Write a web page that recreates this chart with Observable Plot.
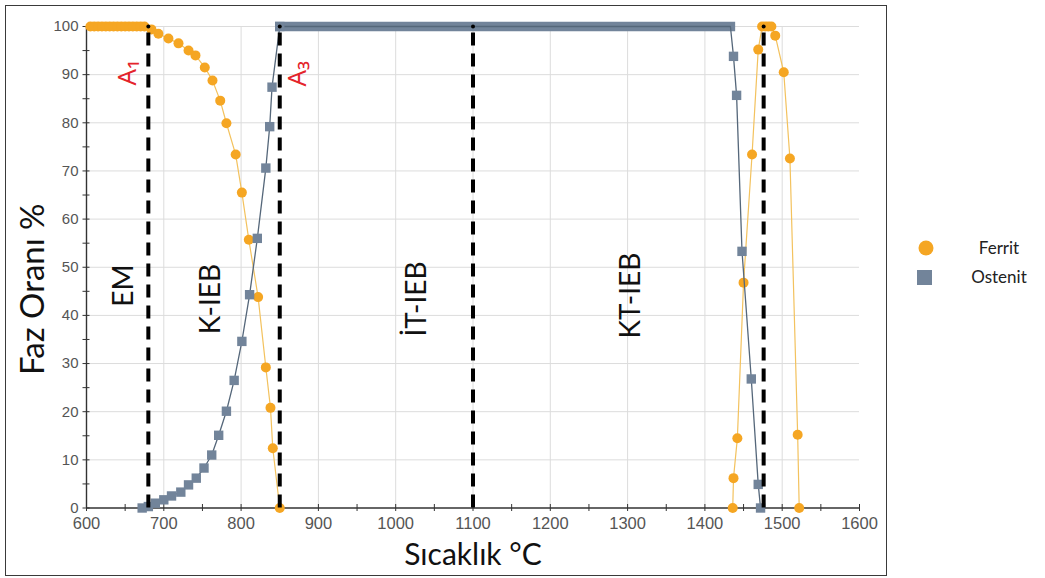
<!DOCTYPE html>
<html>
<head>
<meta charset="utf-8">
<script src="https://cdn.jsdelivr.net/npm/d3@7"></script>
<script src="https://cdn.jsdelivr.net/npm/@observablehq/plot@0.6"></script>
<style>
  body { margin: 0; background: #fff; }
  #wrap { position: relative; width: 1045px; height: 578px; overflow: hidden; background: #fff; }
  #wrap > svg { position: absolute; left: 0; top: 0; }
  #box { position: absolute; left: 5px; top: 5px; width: 882px; height: 571px; border: 1.5px solid #3a3a3a; box-sizing: border-box; pointer-events: none; }
</style>
</head>
<body>
<div id="wrap"><div id="box"></div></div>
<script>
// Phase fractions (%) of ferrite and austenite versus temperature (°C)

// Ferrit – low-temperature branch
const ferritLowT = [605, 610, 615, 620, 625, 630, 635, 640, 645, 650, 655, 660, 665, 670, 675, 684,
                    693, 706, 719, 732, 741, 753, 763, 773, 781, 793, 801, 810, 822, 832, 838, 841, 850];
const ferritLowV = [100, 100, 100, 100, 100, 100, 100, 100, 100, 100, 100, 100, 100, 100, 100, 99.4,
                    98.5, 97.5, 96.5, 95.0, 94.0, 91.5, 88.8, 84.6, 79.9, 73.4, 65.5, 55.7, 43.8, 29.2, 20.8, 12.4, 0];

// Ferrit – high-temperature (delta) branch
const ferritHighT = [1436, 1437, 1442, 1450, 1461, 1469, 1474, 1478, 1482, 1486, 1491, 1502, 1510, 1520, 1522];
const ferritHighV = [0, 6.2, 14.5, 46.8, 73.4, 95.2, 100, 100, 100, 100, 98.1, 90.5, 72.6, 15.2, 0];

// Ostenit – formation on heating
const ostenitLowT = [672, 680, 689, 700, 710, 722, 732, 742, 752, 762, 771, 781, 791, 801, 811, 821, 832, 837, 840, 850];
const ostenitLowV = [0, 0.3, 1.0, 1.7, 2.5, 3.3, 4.8, 6.2, 8.3, 11.0, 15.1, 20.1, 26.5, 34.6, 44.3, 56.0, 70.6, 79.2, 87.4, 100];

// Ostenit – fully austenitic range (densely sampled at 100 %)
const ostenitPlateauT = [850, 1433];
const ostenitPlateauV = [100, 100];

// Ostenit – decay towards delta ferrite
const ostenitHighT = [1437, 1441, 1448, 1460, 1469, 1472];
const ostenitHighV = [93.8, 85.7, 53.3, 26.8, 4.9, 0];

// Critical temperatures (dashed lines)
const criticalT = [680, 850, 1100, 1476];

// Region labels and critical-point labels
const regionNames = ["EM", "K-IEB", "İT-IEB", "KT-IEB"];
const regionT = [648, 761, 1027, 1305];
const regionV = [46.2, 43.4, 43.4, 44.1];
const pointNames = ["A₁", "A₃"];
const pointT = [653, 873];
const pointV = [90.4, 90.2];

// Axis ticks
const xTicks = [600, 700, 800, 900, 1000, 1100, 1200, 1300, 1400, 1500, 1600];
const xMinor = [600, 650, 700, 750, 800, 850, 900, 950, 1000, 1050, 1100, 1150, 1200, 1250, 1300, 1350, 1400, 1450, 1500, 1550, 1600];
const yTicks = [0, 10, 20, 30, 40, 50, 60, 70, 80, 90, 100];
const yMinor = [0, 5, 10, 15, 20, 25, 30, 35, 40, 45, 50, 55, 60, 65, 70, 75, 80, 85, 90, 95, 100];

// Legend
const seriesNames = ["Ferrit", "Ostenit"];
const seriesColors = ["#f5a623", "#72849a"];
const seriesLines = ["#f3c25e", "#55677a"];

const rows = (T, V, extra) => T.map((t, i) => ({T: t, v: V[i], ...extra}));
const ferrit = [
  ...rows(ferritLowT, ferritLowV, {seg: "low"}),
  ...rows(ferritHighT, ferritHighV, {seg: "high"})
];
const ostenitLine = [
  ...rows(ostenitLowT, ostenitLowV),
  ...rows(ostenitPlateauT, ostenitPlateauV),
  ...rows(ostenitHighT, ostenitHighV)
];
const ostenitDots = [...rows(ostenitLowT, ostenitLowV), ...rows(ostenitHighT, ostenitHighV)];
const plateau = rows(ostenitPlateauT, ostenitPlateauV);
const regions = regionNames.map((n, i) => ({n, T: regionT[i], v: regionV[i]}));
const points = pointNames.map((n, i) => ({n, T: pointT[i], v: pointV[i]}));

const titleFont = "Lato, 'Open Sans', sans-serif";
const tickFont = "'Liberation Sans', Arial, sans-serif";
const plain = d => String(d);

const chart = Plot.plot({
  width: 1045,
  height: 578,
  marginLeft: 86,
  marginRight: 186,
  marginTop: 26,
  marginBottom: 70.5,
  x: {domain: [600, 1600]},
  y: {domain: [0, 100]},
  style: {fontFamily: tickFont, background: "transparent"},
  marks: [
    Plot.gridX(xTicks.filter(t => t > 600 && t < 1600), {stroke: "#dcdcdc", strokeOpacity: 1}),
    Plot.gridY(yTicks.filter(t => t > 0), {stroke: "#dcdcdc", strokeOpacity: 1}),
    Plot.ruleY([0], {stroke: "#333", strokeWidth: 1.4}),
    Plot.ruleX([600], {stroke: "#333", strokeWidth: 1.4}),
    Plot.axisX(xMinor, {tickSize: 7, dy: -3.5, fill: "none", stroke: "#333", label: null}),
    Plot.axisX(xTicks, {tickSize: 0, tickPadding: 9, fontSize: 16.5, fill: "#555", tickFormat: plain, label: null}),
    Plot.axisY(yMinor, {tickSize: 7, dx: 3.5, fill: "none", stroke: "#333", label: null}),
    Plot.axisY(yTicks, {tickSize: 0, tickPadding: 8, fontSize: 15, fill: "#555", tickFormat: plain, label: null}),

    // Ferrit
    Plot.line(ferrit, {x: "T", y: "v", z: "seg", stroke: seriesLines[0], strokeWidth: 1.2}),
    Plot.dot(ferrit, {x: "T", y: "v", r: 5, fill: seriesColors[0]}),

    // Ostenit
    Plot.line(plateau, {x: "T", y: "v", stroke: seriesColors[1], strokeWidth: 9.5, strokeLinecap: "square"}),
    Plot.line(ostenitLine, {x: "T", y: "v", stroke: seriesLines[1], strokeWidth: 1.3}),
    Plot.dot(ostenitDots, {x: "T", y: "v", r: 5.3, symbol: "square", fill: seriesColors[1]}),

    // Critical temperatures
    Plot.ruleX(criticalT, {y1: 0, y2: 100, stroke: "#000", strokeWidth: 4, strokeDasharray: "13,8"}),
    Plot.dot(criticalT, {x: d => d, y: 100, r: 2, fill: "#000"}),

    // Labels
    Plot.text(regions, {x: "T", y: "v", text: "n", rotate: -90, fontSize: 28, fontFamily: titleFont, fill: "#111"}),
    Plot.text(points, {x: "T", y: "v", text: "n", rotate: -90, fontSize: 26, fontFamily: "'Noto Sans', 'DejaVu Sans', sans-serif", fill: "#e4242b"}),
    Plot.text(["Sıcaklık °C"], {frameAnchor: "bottom", textAnchor: "middle", lineAnchor: "middle", dy: 47, fontSize: 30, fontFamily: titleFont, fill: "#111"}),
    Plot.text(["Faz Oranı %"], {frameAnchor: "left", textAnchor: "middle", lineAnchor: "middle", dx: -53, dy: 22, rotate: -90, fontSize: 33, fontFamily: titleFont, fill: "#111"})
  ]
});

const wrap = document.getElementById("wrap");
wrap.insertBefore(chart, wrap.firstChild);

// Legend to the right of the framed chart
const legend = d3.select(wrap).append("svg")
  .attr("width", 1045).attr("height", 578)
  .style("position", "absolute").style("left", 0).style("top", 0);
const item = legend.selectAll("g").data(seriesNames).join("g")
  .attr("transform", (d, i) => `translate(0, ${248 + i * 27})`);
item.filter((d, i) => i === 0).append("circle")
  .attr("cx", 926).attr("cy", 0).attr("r", 7.5).attr("fill", seriesColors[0]);
item.filter((d, i) => i === 1).append("rect")
  .attr("x", 917).attr("y", -5).attr("width", 15).attr("height", 15).attr("fill", seriesColors[1]);
item.append("text")
  .attr("x", 999).attr("y", (d, i) => i === 0 ? 6 : 8)
  .attr("text-anchor", "middle")
  .attr("font-family", titleFont).attr("font-size", 17).attr("fill", "#222")
  .text(d => d);
</script>
</body>
</html>
